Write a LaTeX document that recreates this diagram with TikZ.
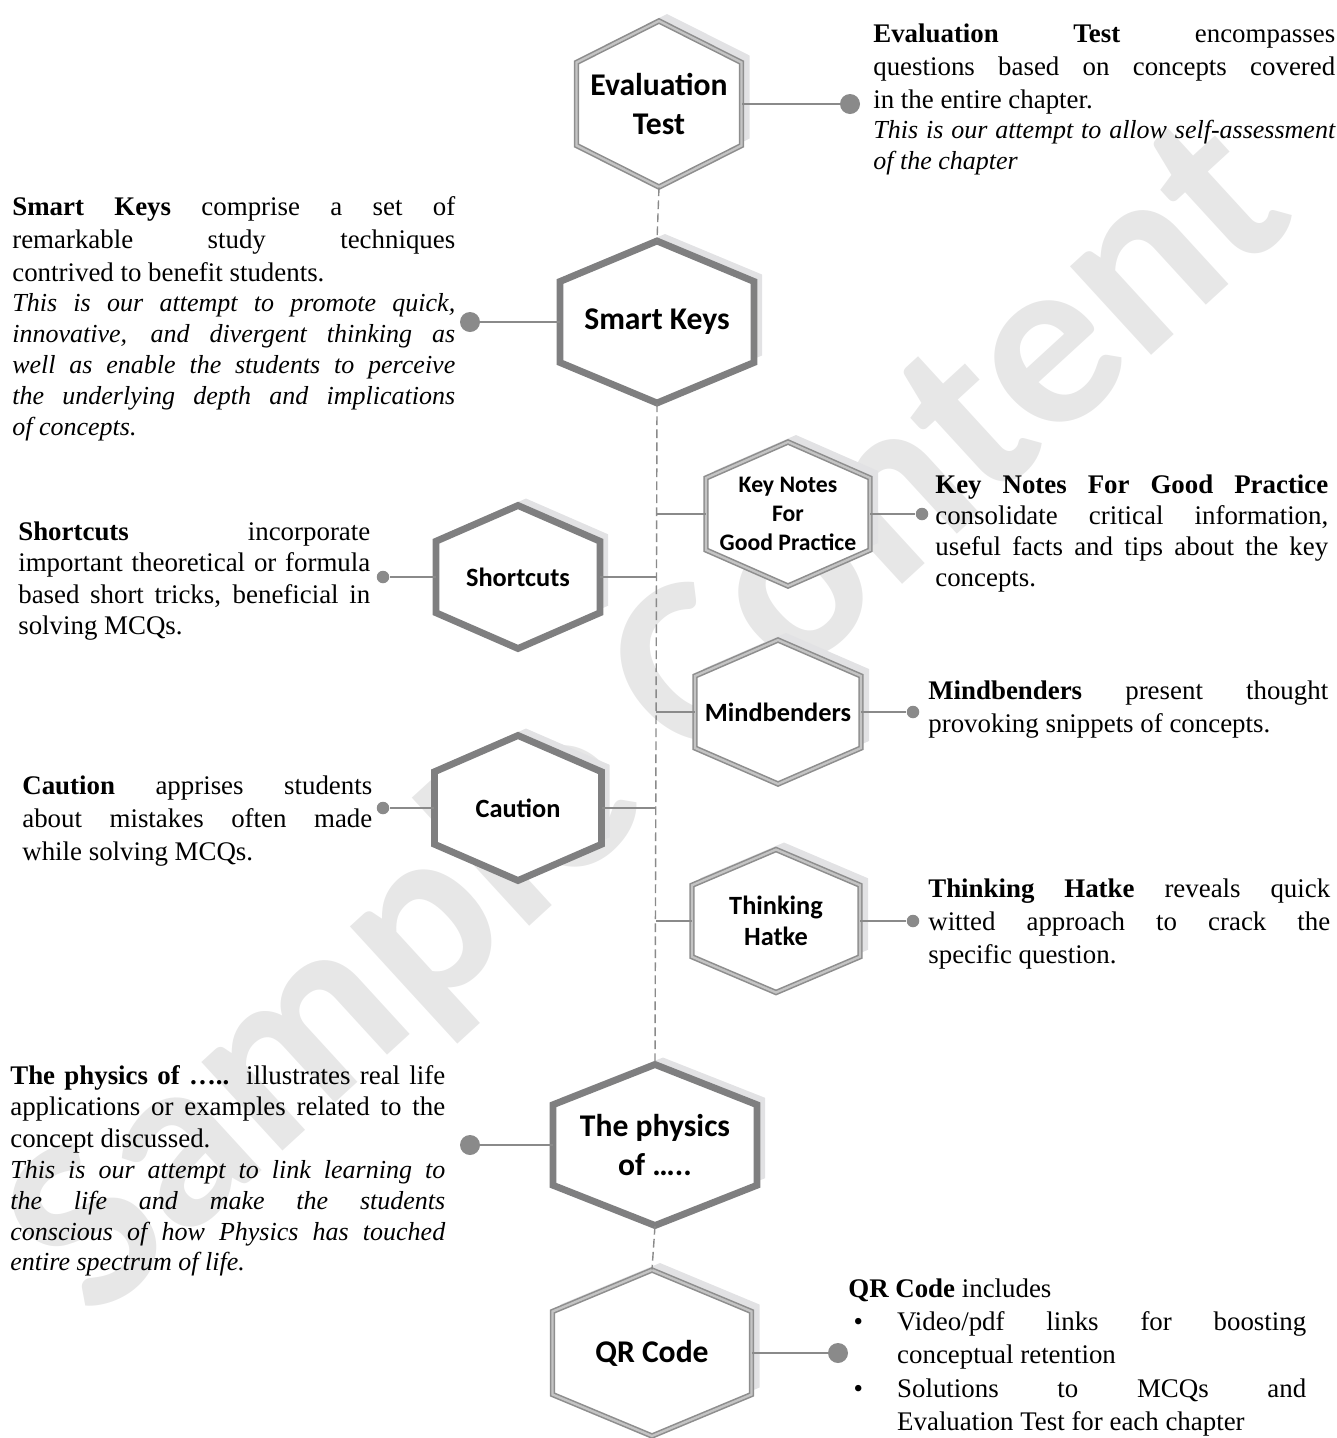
\documentclass[tikz,border=0pt]{standalone}
\usepackage{fontspec}
\setmainfont{Liberation Serif}
\newfontfamily\hexfont{Carlito}
\usetikzlibrary{calc}
\definecolor{hexdark}{HTML}{7F7F80}
\definecolor{hexline}{HTML}{8E8E8E}
\definecolor{hexmid}{HTML}{C4C4C4}
\definecolor{hexshade}{HTML}{E2E2E4}
\definecolor{wmark}{HTML}{E7E7E7}
\definecolor{linkgrey}{HTML}{8A8A8A}
\hyphenpenalty=10000
\exhyphenpenalty=10000
\tikzset{
  x=0.02cm, y=-0.02cm,
  hexthick/.style={draw=hexdark, line width=3.9pt, fill=white},
  hexdouble/.style={draw=hexline, line width=0.9pt, double=hexmid, double distance=1.3pt, fill=white},
  hexshadow/.style={fill=hexshade},
  lblbig/.style={font=\hexfont\bfseries\fontsize{18}{22}\selectfont},
  lblmid/.style={font=\hexfont\bfseries\fontsize{15}{18}\selectfont},
  lblsmall/.style={font=\hexfont\bfseries\fontsize{13.5}{16.4}\selectfont},
  desc/.style={anchor=base west, inner sep=0pt, align=justify, font=\fontsize{15.3}{18.8}\selectfont},
  spine/.style={draw=linkgrey, line width=0.8pt, dash pattern=on 5pt off 2.4pt},
  link/.style={draw=linkgrey, line width=1pt},
  bigdot/.style={circle, fill=linkgrey, inner sep=0pt, minimum size=0.4cm},
  smalldot/.style={circle, fill=linkgrey, inner sep=0pt, minimum size=0.25cm},
  watermark/.style={text=wmark, rotate=42.5, font=\hexfont\bfseries\fontsize{141}{141}\selectfont},
}
% hexagon with shadow: shape style, label style, name, x, y, width, height, label
\newcommand{\hexbox}[8]{%
  \fill[hexshadow, shift={(#4+8,#5-7)}] (0,-#7/2) -- (#6/2,-#7/4) -- (#6/2,#7/4) -- (0,#7/2) -- (-#6/2,#7/4) -- (-#6/2,-#7/4) -- cycle;
  \draw[#1, shift={(#4,#5)}] (0,-#7/2) -- (#6/2,-#7/4) -- (#6/2,#7/4) -- (0,#7/2) -- (-#6/2,#7/4) -- (-#6/2,-#7/4) -- cycle;
  \node[#2, align=center, inner sep=0pt, minimum width=#6*0.02cm, minimum height=#7*0.02cm] (#3) at (#4,#5) {#8};
}
\newcommand{\aside}[1]{\par{\itshape\fontsize{14.8}{17.6}\selectfont #1\par}}

\begin{document}
\begin{tikzpicture}
\useasboundingbox (0,0) rectangle (1337,1438);

% watermark
\node[watermark] (wm) at (652,722) {Sample Content};

% hexagons
\hexbox{hexdouble}{lblbig}{ev}{659}{104}{165}{166}{Evaluation\\Test}
\hexbox{hexthick}{lblbig}{sk}{657}{322}{194}{162}{Smart Keys}
\hexbox{hexdouble}{lblsmall}{kn}{788}{514}{164}{144}{Key Notes\\For\\Good Practice}
\hexbox{hexthick}{lblmid}{sc}{518}{577}{164}{143}{Shortcuts}
\hexbox{hexdouble}{lblmid}{mb}{778}{712}{166}{144}{Mindbenders}
\hexbox{hexthick}{lblmid}{ca}{518}{808}{167}{145}{Caution}
\hexbox{hexdouble}{lblmid}{th}{776}{921}{168}{143}{Thinking\\Hatke}
\hexbox{hexthick}{lblbig}{ph}{655}{1145}{204}{161}{The physics\\of …..}
\hexbox{hexdouble}{lblbig}{qr}{652}{1353}{199}{166}{QR Code}

% dashed spine
\coordinate (spine) at (656,0);
\draw[spine] (ev.south) -- (sk.north) (sk.south) -- (ph.north) (ph.south) -- (qr.north);

% dots
\node[bigdot] (evdot) at (850,104) {};
\node[bigdot] (skdot) at (470,322) {};
\node[smalldot] (kndot) at (922,514) {};
\node[smalldot] (scdot) at (383,577) {};
\node[smalldot] (mbdot) at (913,712) {};
\node[smalldot] (cadot) at (383,808) {};
\node[smalldot] (thdot) at (913,921) {};
\node[bigdot] (phdot) at (470,1145) {};
\node[bigdot] (qrdot) at (838,1353) {};

% connectors
\draw[link] (ev.east) -- (evdot);
\draw[link] (sk.west) -- (skdot);
\draw[link] (kn.west -| spine) -- (kn.west);
\draw[link] (kn.east) -- (kndot);
\draw[link] (sc.east) -- (sc.east -| spine);
\draw[link] (sc.west) -- (scdot);
\draw[link] (mb.west -| spine) -- (mb.west);
\draw[link] (mb.east) -- (mbdot);
\draw[link] (ca.east) -- (ca.east -| spine);
\draw[link] (ca.west) -- (cadot);
\draw[link] (th.west -| spine) -- (th.west);
\draw[link] (th.east) -- (thdot);
\draw[link] (ph.west) -- (phdot);
\draw[link] (qr.east) -- (qrdot);

% descriptions
\node[desc, text width=9.24cm] (evtext) at (873,42)
  {\textbf{Evaluation Test} encompasses\linebreak questions based on concepts covered\linebreak in the entire chapter.
   \aside{This is our attempt to allow self-assessment\linebreak of the chapter}};
\node[desc, text width=8.86cm] (sktext) at (12,215)
  {\textbf{Smart Keys} comprise a set of\linebreak remarkable study techniques\linebreak contrived to benefit students.
   \aside{This is our attempt to promote quick,\linebreak innovative, and divergent thinking as\linebreak well as enable the students to perceive\linebreak the underlying depth and implications\linebreak of concepts.}};
\node[desc, text width=7.86cm, font=\fontsize{15.3}{17.8}\selectfont] (kntext) at (935,493)
  {\textbf{Key Notes For Good Practice}\linebreak consolidate critical information,\linebreak useful facts and tips about the key\linebreak concepts.};
\node[desc, text width=7.04cm, font=\fontsize{15.3}{18}\selectfont] (sctext) at (18,540)
  {\textbf{Shortcuts} incorporate\linebreak important theoretical or formula\linebreak based short tricks, beneficial in\linebreak solving MCQs.};
\node[desc, text width=8.0cm] (mbtext) at (928,699)
  {\textbf{Mindbenders} present thought\linebreak provoking snippets of concepts.};
\node[desc, text width=7.0cm] (catext) at (22,794)
  {\textbf{Caution} apprises students\linebreak about mistakes often made\linebreak while solving MCQs.};
\node[desc, text width=8.04cm] (thtext) at (928,897)
  {\textbf{Thinking Hatke} reveals quick\linebreak witted approach to crack the\linebreak specific question.};
\node[desc, text width=8.7cm, font=\fontsize{15.3}{18}\selectfont] (phtext) at (10,1084)
  {\textbf{The physics of …..} illustrates real life\linebreak applications or examples related to the\linebreak concept discussed.
   \aside{This is our attempt to link learning to\linebreak the life and make the students\linebreak conscious of how Physics has touched\linebreak entire spectrum of life.}};
\node[desc, text width=9.16cm, font=\fontsize{15.3}{19}\selectfont] (qrtext) at (848,1297)
  {\textbf{QR Code} includes\par
   \hangindent=27.8pt\hangafter=1\noindent\hbox to 27.8pt{\hskip 3pt\textbullet\hfil}Video/pdf links for boosting\linebreak conceptual retention\par
   \hangindent=27.8pt\hangafter=1\noindent\hbox to 27.8pt{\hskip 3pt\textbullet\hfil}Solutions to MCQs and\linebreak Evaluation Test for each chapter\par};
\end{tikzpicture}
\end{document}
